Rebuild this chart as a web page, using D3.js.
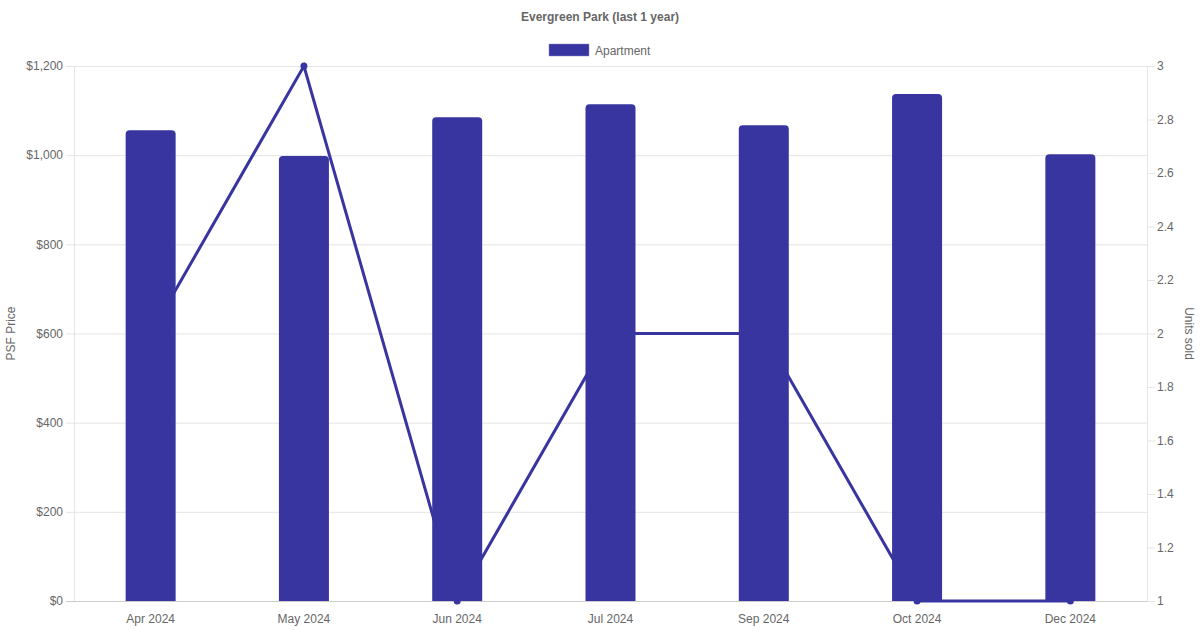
<!DOCTYPE html>
<html>
<head>
<meta charset="utf-8">
<script src="https://cdn.jsdelivr.net/npm/d3@7"></script>
<style>
  body { margin: 0; background: #fff; }
  text { font-family: "Liberation Sans", Arial, sans-serif; }
</style>
</head>
<body>
<div id="canvas"></div>
<script>
const months = ["Apr 2024", "May 2024", "Jun 2024", "Jul 2024", "Sep 2024", "Oct 2024", "Dec 2024"];
const psfPrice = [1056, 998, 1085, 1114, 1067, 1137, 1002];
const unitsSold = [2, 3, 1, 2, 2, 1, 1];
const priceTicks = [0, 200, 400, 600, 800, 1000, 1200];
const unitTicks = [1, 1.2, 1.4, 1.6, 1.8, 2, 2.2, 2.4, 2.6, 2.8, 3];

const W = 1200, H = 630;
const plotLeft = 74, plotRight = 1147, plotTop = 66, plotBottom = 601;
const barColor = "#3935a0";
const textColor = "#666";

const svg = d3.select("#canvas").append("svg")
    .attr("width", W)
    .attr("height", H);

const x = d3.scaleBand().domain(months).range([plotLeft, plotRight]);
const yL = d3.scaleLinear().domain([0, 1200]).range([plotBottom, plotTop]);
const yR = d3.scaleLinear().domain([1, 3]).range([plotBottom, plotTop]);

// grid lines from the left axis
svg.append("g").selectAll("line")
    .data(priceTicks)
    .join("line")
    .attr("x1", plotLeft - 8)
    .attr("x2", plotRight)
    .attr("y1", d => yL(d) + 0.5)
    .attr("y2", d => yL(d) + 0.5)
    .attr("stroke", d => d === 0 ? "#ccc" : "#e5e5e5")
    .attr("stroke-width", 1);

// axis borders
svg.append("line")
    .attr("x1", plotLeft + 0.5).attr("x2", plotLeft + 0.5)
    .attr("y1", plotTop).attr("y2", plotBottom)
    .attr("stroke", "#e5e5e5");
svg.append("line")
    .attr("x1", plotRight + 0.5).attr("x2", plotRight + 0.5)
    .attr("y1", plotTop).attr("y2", plotBottom)
    .attr("stroke", "#e5e5e5");

// left tick labels
svg.append("g").selectAll("text")
    .data(priceTicks)
    .join("text")
    .attr("x", plotLeft - 11)
    .attr("y", d => yL(d))
    .attr("dy", "0.35em")
    .attr("text-anchor", "end")
    .attr("font-size", 12)
    .attr("fill", textColor)
    .text(d => "$" + d3.format(",")(d));

// right ticks
svg.append("g").selectAll("line")
    .data(unitTicks)
    .join("line")
    .attr("x1", plotRight)
    .attr("x2", plotRight + 8)
    .attr("y1", d => yR(d) + 0.5)
    .attr("y2", d => yR(d) + 0.5)
    .attr("stroke", "#e5e5e5");
svg.append("g").selectAll("text")
    .data(unitTicks)
    .join("text")
    .attr("x", plotRight + 10)
    .attr("y", d => yR(d))
    .attr("dy", "0.35em")
    .attr("font-size", 12)
    .attr("fill", textColor)
    .text(d => d3.format("~g")(d));

// x labels
svg.append("g").selectAll("text")
    .data(months)
    .join("text")
    .attr("x", d => x(d) + x.bandwidth() / 2)
    .attr("y", plotBottom + 22)
    .attr("text-anchor", "middle")
    .attr("font-size", 12)
    .attr("fill", textColor)
    .text(d => d);

// axis titles
svg.append("text")
    .attr("transform", `translate(15,${(plotTop + plotBottom) / 2}) rotate(-90)`)
    .attr("text-anchor", "middle")
    .attr("font-size", 12)
    .attr("fill", textColor)
    .text("PSF Price");
svg.append("text")
    .attr("transform", `translate(1185,${(plotTop + plotBottom) / 2}) rotate(90)`)
    .attr("text-anchor", "middle")
    .attr("font-size", 12)
    .attr("fill", textColor)
    .text("Units sold");

// title and legend
svg.append("text")
    .attr("x", 600).attr("y", 21)
    .attr("text-anchor", "middle")
    .attr("font-size", 12)
    .attr("font-weight", "bold")
    .attr("fill", textColor)
    .text("Evergreen Park (last 1 year)");
svg.append("rect")
    .attr("x", 549).attr("y", 44)
    .attr("width", 40).attr("height", 12)
    .attr("fill", barColor)
    .attr("stroke", "#8c89c9")
    .attr("stroke-width", 0.5);
svg.append("text")
    .attr("x", 595).attr("y", 54.5)
    .attr("font-size", 12)
    .attr("fill", textColor)
    .text("Apartment");

// units sold line (behind bars)
const line = d3.line()
    .x((d, i) => x(months[i]) + x.bandwidth() / 2)
    .y(d => yR(d));
svg.append("path")
    .datum(unitsSold)
    .attr("d", line)
    .attr("fill", "none")
    .attr("stroke", barColor)
    .attr("stroke-width", 3);
svg.append("g").selectAll("circle")
    .data(unitsSold)
    .join("circle")
    .attr("cx", (d, i) => x(months[i]) + x.bandwidth() / 2)
    .attr("cy", d => yR(d))
    .attr("r", 3.5)
    .attr("fill", barColor);

// bars with rounded tops
const bw = 50, r = 4;
svg.append("g").selectAll("path")
    .data(psfPrice)
    .join("path")
    .attr("d", (d, i) => {
        const x0 = x(months[i]) + x.bandwidth() / 2 - bw / 2;
        const x1 = x0 + bw;
        const y0 = yL(d), y1 = yL(0);
        return `M${x0},${y1}L${x0},${y0 + r}Q${x0},${y0} ${x0 + r},${y0}L${x1 - r},${y0}Q${x1},${y0} ${x1},${y0 + r}L${x1},${y1}Z`;
    })
    .attr("fill", barColor);
</script>
</body>
</html>
